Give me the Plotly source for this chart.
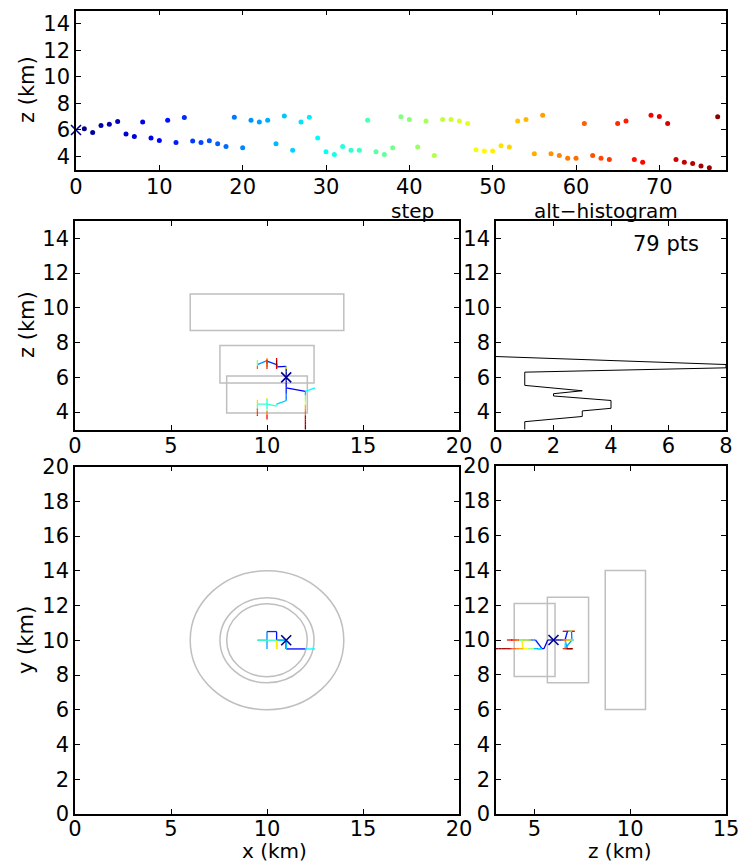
import plotly.graph_objects as go

# ---------------- data ----------------
steps = list(range(79))

# altitude of each step (km)
alt_km = [6.0, 6.1, 5.8, 6.33, 6.43, 6.63, 5.7, 5.5, 6.6, 5.4,
          5.2, 6.73, 5.06, 6.94, 5.16, 5.06, 5.19, 4.96, 4.76, 6.96,
          4.66, 6.73, 6.6, 6.73, 4.96, 7.06, 4.46, 6.6, 6.96, 5.39,
          4.35, 4.15, 4.76, 4.46, 4.46, 6.73, 4.35, 4.15, 4.66, 7.0,
          6.78, 4.71, 6.68, 4.08, 6.78, 6.78, 6.68, 6.48, 4.51, 4.41,
          4.41, 4.81, 4.71, 6.68, 6.78, 4.2, 7.11, 4.2, 4.08, 3.87,
          3.87, 6.48, 4.08, 3.87, 3.77, 6.48, 6.68, 3.77, 3.57, 7.11,
          7.01, 6.48, 3.77, 3.57, 3.47, 3.27, 3.14, 6.99, 2.95]

# horizontal position of each step (km)
pos_x = [11, 11, 11, 11, 11, 11, 11, 11, 10.5, 11,
         12, 10.5, 11, 10, 12, 11, 12, 11, 11, 10,
         11, 9.5, 10, 10.5, 12, 10, 10.5, 11, 10.5, 12.5,
         10.5, 10, 10, 10, 9.5, 10, 9.5, 9.5, 12, 9.5,
         10, 12, 10.5, 10, 10, 10.5, 9.5, 11, 12, 12,
         10.5, 10, 9.5, 10, 10.5, 12, 10, 9.5, 12, 10,
         12, 9.5, 9.5, 9.5, 12, 10, 10.5, 9.5, 10, 10.5,
         10, 10.5, 12, 12, 12, 12, 12, 10.5, 12]

pos_y = [10, 10, 10, 10, 10, 10, 10, 9.5, 10, 9.5,
         9.5, 10.5, 10, 10.5, 9.5, 10, 9.5, 10, 10, 10,
         10, 10, 9.5, 9.5, 9.5, 10, 10, 9.5, 10.5, 9.5,
         10, 10, 10, 10, 10, 10.5, 10, 10, 9.5, 10,
         10.5, 9.5, 9.5, 10, 9.5, 10.5, 10, 10, 9.5, 9.5,
         9.5, 10, 10, 10, 10, 9.5, 10.5, 10, 9.5, 10,
         9.5, 10, 10, 10, 9.5, 9.5, 9.5, 10, 10, 10.5,
         9.5, 10.5, 9.5, 9.5, 9.5, 9.5, 9.5, 9.5, 9.5]

# step each point was reached from (-1 = start)
parent = [-1, 0, 0, 1, 3, 4, 2, 6, 5, 7,
          9, 8, 9, 11, 10, 12, 14, 15, 17, 13,
          18, 19, 19, 8, 16, 19, 20, 5, 11, 16,
          26, 33, 33, 30, 33, 13, 34, 36, 41, 21,
          13, 24, 23, 31, 22, 11, 21, 5, 38, 48,
          30, 32, 34, 19, 8, 49, 40, 37, 55, 43,
          58, 46, 57, 62, 60, 44, 42, 63, 59, 28,
          44, 45, 64, 72, 73, 74, 75, 66, 76]

# altitude histogram outline
hist_count = [1, 1, 3, 3, 4, 4, 2, 2, 3, 1, 1, 8, 8, 0]
hist_alt = [2.9, 3.45, 3.75, 4.07, 4.22, 4.67, 4.93, 5.06, 5.23, 5.54, 6.3, 6.55, 6.74, 7.2]
n_points = 79

# cylindrical volumes: centre (x, y), radius, base and top altitude (km)
cyl_cx = [10, 10, 10]
cyl_cy = [10, 10, 10]
cyl_r = [4.0, 2.45, 2.1]
cyl_zbot = [8.7, 5.68, 3.95]
cyl_ztop = [10.8, 7.83, 6.08]

# tick values
step_ticks = [0, 10, 20, 30, 40, 50, 60, 70]
alt_ticks = [4, 6, 8, 10, 12, 14]
xy_ticks = [0, 5, 10, 15, 20]
y_ticks = list(range(0, 21, 2))
count_ticks = [0, 2, 4, 6, 8]
z_ticks = [5, 10, 15]

# ---------------- styling ----------------
W, H = 740, 863
FONT = "DejaVu Sans"
FS = 21
GRAY = "rgb(191,191,191)"
START = "rgb(0,0,150)"


def jet(t):
    def c(v):
        return max(0.0, min(1.0, v))
    r = c(min(4 * t - 1.5, -4 * t + 4.5))
    g = c(min(4 * t - 0.5, -4 * t + 3.5))
    b = c(min(4 * t + 0.5, -4 * t + 2.5))
    return f"rgb({round(r*255)},{round(g*255)},{round(b*255)})"


n_last = steps[-1]
colors = [jet(s / n_last) for s in steps]


def dom_x(a, b):
    return [a / W, b / W]


def dom_y(top, bottom):
    return [1 - bottom / H, 1 - top / H]


axis_common = dict(
    showline=True, linecolor="black", linewidth=1.5, mirror="ticks",
    ticks="inside", ticklen=5, tickwidth=1, tickcolor="black",
    showgrid=False, zeroline=False, automargin=False,
    tickfont=dict(family=FONT, size=FS, color="black"),
)
xaxis_common = dict(axis_common, ticklabelstandoff=-3)
xaxis_bottom = dict(axis_common, ticklabelstandoff=-5)

fig = go.Figure()

# ---- panel 1: altitude vs step ----
fig.add_trace(go.Scatter(
    x=steps[1:], y=alt_km[1:], mode="markers",
    marker=dict(size=5, color=colors[1:], line=dict(width=0)),
    xaxis="x", yaxis="y", showlegend=False, cliponaxis=False))
fig.add_trace(go.Scatter(
    x=[steps[0]], y=[alt_km[0]], mode="markers",
    marker=dict(symbol="x-thin", size=10, line=dict(width=1.6, color=START)),
    xaxis="x", yaxis="y", showlegend=False, cliponaxis=False))

# ---- track projections: x-z, x-y, z-y ----
projections = [
    ("x2", "y2", pos_x, alt_km),
    ("x4", "y4", pos_x, pos_y),
    ("x5", "y5", alt_km, pos_y),
]
for xa, ya, hx, vy in projections:
    for s in steps:
        p = parent[s]
        if p < 0:
            continue
        fig.add_trace(go.Scatter(
            x=[hx[p], hx[s]], y=[vy[p], vy[s]], mode="lines",
            line=dict(color=colors[s], width=1.3),
            xaxis=xa, yaxis=ya, showlegend=False, hoverinfo="skip"))
    fig.add_trace(go.Scatter(
        x=[hx[0]], y=[vy[0]], mode="markers",
        marker=dict(symbol="x-thin", size=10, line=dict(width=1.6, color=START)),
        xaxis=xa, yaxis=ya, showlegend=False))

# ---- altitude histogram ----
fig.add_trace(go.Scatter(
    x=hist_count, y=hist_alt, mode="lines",
    line=dict(color="black", width=1),
    xaxis="x3", yaxis="y3", showlegend=False))

# ---- cylinders ----
shapes = []
for cx, cy, r, zb, zt in zip(cyl_cx, cyl_cy, cyl_r, cyl_zbot, cyl_ztop):
    line = dict(color=GRAY, width=1.5)
    shapes.append(dict(type="rect", xref="x2", yref="y2", x0=cx - r, x1=cx + r,
                       y0=zb, y1=zt, line=line, layer="below"))
    shapes.append(dict(type="circle", xref="x4", yref="y4", x0=cx - r, x1=cx + r,
                       y0=cy - r, y1=cy + r, line=line, layer="below"))
    shapes.append(dict(type="rect", xref="x5", yref="y5", x0=zb, x1=zt,
                       y0=cy - r, y1=cy + r, line=line, layer="below"))

# ---- text ----
def label(text, x, y, angle=0, xref="paper", yref="paper", size=FS):
    return dict(text=text, x=x, y=y, xref=xref, yref=yref, showarrow=False,
                textangle=angle, xanchor="center", yanchor="middle",
                font=dict(family=FONT, size=size, color="black"))


annotations = [
    label("z (km)", 27 / W, 1 - 90 / H, -90),
    label("z (km)", 27 / W, 1 - 325 / H, -90),
    label("y (km)", 26 / W, 1 - 640 / H, -90),
    label("step", 412 / W, 1 - 211 / H, size=20),
    label("alt\u2212histogram", 606 / W, 1 - 211 / H, size=20),
    label("x (km)", 274 / W, 1 - 851 / H, size=20),
    label("z (km)", 620 / W, 1 - 851 / H, size=20),
    label(f"{n_points} pts", 5.9, 13.7, xref="x3", yref="y3"),
]

fig.update_layout(
    width=W, height=H, margin=dict(l=0, r=0, t=0, b=0),
    paper_bgcolor="white", plot_bgcolor="white",
    shapes=shapes, annotations=annotations,
    xaxis=dict(xaxis_common, domain=dom_x(76, 726), range=[0, 78], tickvals=step_ticks, anchor="y"),
    yaxis=dict(axis_common, domain=dom_y(10.7, 169.7), range=[3, 15], tickvals=alt_ticks, anchor="x"),
    xaxis2=dict(xaxis_common, domain=dom_x(75, 459), range=[0, 20], tickvals=xy_ticks, anchor="y2"),
    yaxis2=dict(axis_common, domain=dom_y(221, 429.5), range=[3, 15], tickvals=alt_ticks, anchor="x2"),
    xaxis3=dict(xaxis_common, domain=dom_x(496, 726), range=[0, 8], tickvals=count_ticks, anchor="y3"),
    yaxis3=dict(axis_common, domain=dom_y(221, 429.5), range=[3, 15], tickvals=alt_ticks, anchor="x3"),
    xaxis4=dict(xaxis_bottom, domain=dom_x(75, 459), range=[0, 20], tickvals=xy_ticks, anchor="y4"),
    yaxis4=dict(axis_common, domain=dom_y(466.5, 814), range=[0, 20], tickvals=y_ticks, anchor="x4"),
    xaxis5=dict(xaxis_bottom, domain=dom_x(496, 726), range=[3, 15], tickvals=z_ticks, anchor="y5"),
    yaxis5=dict(axis_common, domain=dom_y(466, 814), range=[0, 20], tickvals=y_ticks, anchor="x5"),
)

fig.write_html("out.html", config={"displayModeBar": False})
